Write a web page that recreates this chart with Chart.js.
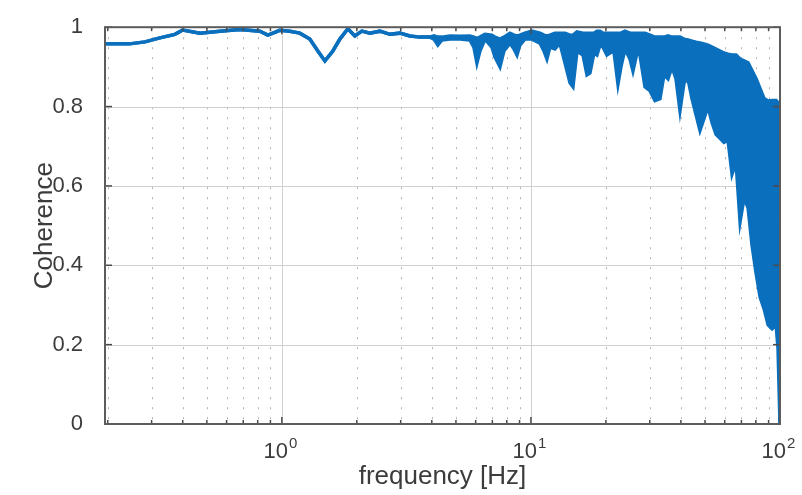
<!DOCTYPE html>
<html>
<head>
<meta charset="utf-8">
<script src="https://cdn.jsdelivr.net/npm/chart.js@4.4.1/dist/chart.umd.min.js"></script>
<style>
    html, body { margin: 0; padding: 0; background: #fff; }
    #wrap { width: 802px; height: 495px; position: relative; }
</style>
</head>
<body>
<div id="wrap"><canvas id="coh"></canvas></div>
<script>
// frequency bins [Hz]
const freqHz = [
    0.195, 0.245, 0.282, 0.324, 0.372, 0.400, 0.469, 0.564, 0.678, 0.816,
    0.879, 0.982, 1.077, 1.181, 1.295, 1.395, 1.489, 1.603, 1.710, 1.841,
    1.964, 2.096, 2.255, 2.474, 2.715, 2.978, 3.267, 3.584, 3.93,
    4.08, 4.23, 4.39, 4.73, 5.19, 5.69, 5.90, 6.07, 6.24, 6.54,
    6.97, 7.17, 7.51, 7.79, 8.24, 8.55, 8.79, 9.03, 9.46, 10.09,
    10.87, 11.28, 11.59, 11.92, 12.48, 13.07, 13.70, 14.35, 14.75, 15.31,
    16.18, 16.79, 17.26, 17.91, 18.41, 18.93, 19.46, 20.19, 20.76, 21.54,
    22.36, 22.98, 23.85, 24.98, 25.68, 26.65, 27.40, 28.70, 30.06, 31.48,
    32.97, 34.21, 35.50, 36.84, 38.23, 39.67, 41.17, 42.72, 44.33, 46.00,
    47.73, 49.53, 51.40, 53.34, 55.35, 57.44, 59.61, 61.86, 64.19, 66.61,
    69.13, 71.74, 74.45, 77.25, 80.17, 83.19, 86.33, 89.59, 92.97, 96.47,
    98.2, 100
];

// top edge of the coherence trace
const cohUpper = [
    0.958, 0.958, 0.963, 0.973, 0.982, 0.993, 0.985, 0.990, 0.994, 0.990,
    0.980, 0.992, 0.990, 0.985, 0.970, 0.940, 0.915, 0.940, 0.970, 0.996,
    0.978, 0.990, 0.985, 0.990, 0.982, 0.985, 0.978, 0.975, 0.975,
    0.978, 0.975, 0.975, 0.978, 0.977, 0.978, 0.975, 0.972, 0.975, 0.982,
    0.980, 0.975, 0.970, 0.975, 0.985, 0.980, 0.978, 0.980, 0.985, 0.990,
    0.985, 0.980, 0.978, 0.980, 0.985, 0.985, 0.985, 0.980, 0.980, 0.988,
    0.985, 0.985, 0.985, 0.985, 0.990, 0.990, 0.985, 0.985, 0.985, 0.985,
    0.985, 0.985, 0.990, 0.985, 0.985, 0.985, 0.985, 0.985, 0.980, 0.975,
    0.975, 0.975, 0.978, 0.975, 0.975, 0.975, 0.970, 0.968, 0.965, 0.962,
    0.960, 0.958, 0.955, 0.950, 0.945, 0.940, 0.935, 0.932, 0.930, 0.930,
    0.920, 0.915, 0.910, 0.890, 0.870, 0.845, 0.820, 0.814, 0.815, 0.815,
    0.810, 0.000
];

// bottom edge (dips) of the coherence trace
const cohLower = [
    0.958, 0.958, 0.963, 0.973, 0.982, 0.993, 0.985, 0.990, 0.994, 0.990,
    0.980, 0.992, 0.990, 0.985, 0.970, 0.940, 0.915, 0.940, 0.970, 0.996,
    0.978, 0.990, 0.985, 0.990, 0.982, 0.985, 0.978, 0.975, 0.975,
    0.970, 0.955, 0.968, 0.970, 0.970, 0.968, 0.950, 0.910, 0.940, 0.970,
    0.950, 0.925, 0.900, 0.940, 0.960, 0.945, 0.930, 0.955, 0.970, 0.970,
    0.960, 0.940, 0.920, 0.950, 0.945, 0.960, 0.910, 0.860, 0.850, 0.940,
    0.930, 0.880, 0.885, 0.935, 0.930, 0.955, 0.950, 0.930, 0.935, 0.940,
    0.857, 0.900, 0.945, 0.920, 0.890, 0.935, 0.930, 0.850, 0.840, 0.815,
    0.820, 0.880, 0.870, 0.900, 0.870, 0.790, 0.860, 0.870, 0.820, 0.780,
    0.740, 0.770, 0.800, 0.760, 0.730, 0.720, 0.710, 0.715, 0.630, 0.660,
    0.510, 0.570, 0.545, 0.450, 0.380, 0.320, 0.290, 0.250, 0.240, 0.250,
    0.190, 0.000
];

const xMajorTicks = [1, 10, 100];
const xMajorExp = ['0', '1', '2'];
const xMinorTicks = [
    0.2, 0.3, 0.4, 0.5, 0.6, 0.7, 0.8, 0.9,
    2, 3, 4, 5, 6, 7, 8, 9,
    20, 30, 40, 50, 60, 70, 80, 90
];
const yTicks = [0, 0.2, 0.4, 0.6, 0.8, 1];

const blue = '#0a6fbd';
const textCol = '#3c3c3c';
const font = '"Liberation Sans", Arial, Helvetica, sans-serif';

const toPts = (ys) => freqHz.map((f, i) => ({ x: f, y: ys[i] }));

// MATLAB-ish axes: dotted minor grid, solid major grid, inward ticks, box
const matlabAxes = {
    id: 'matlabAxes',
    beforeDatasetsDraw(chart) {
        const { ctx, chartArea: a, scales: { x, y } } = chart;
        ctx.save();
        ctx.lineWidth = 1;
        ctx.strokeStyle = '#b2b2b2';
        ctx.setLineDash([2, 8]);
        for (const v of xMinorTicks) {
            const px = Math.round(x.getPixelForValue(v)) + 0.5;
            ctx.beginPath();
            ctx.moveTo(px, a.top);
            ctx.lineTo(px, a.bottom);
            ctx.stroke();
        }
        ctx.setLineDash([]);
        ctx.strokeStyle = '#d0d0d0';
        for (const v of xMajorTicks) {
            const px = Math.round(x.getPixelForValue(v)) + 0.5;
            ctx.beginPath();
            ctx.moveTo(px, a.top);
            ctx.lineTo(px, a.bottom);
            ctx.stroke();
        }
        for (const v of yTicks) {
            const py = Math.round(y.getPixelForValue(v)) + 0.5;
            ctx.beginPath();
            ctx.moveTo(a.left, py);
            ctx.lineTo(a.right, py);
            ctx.stroke();
        }
        ctx.restore();
    },
    afterDatasetsDraw(chart) {
        const { ctx, chartArea: a, scales: { x, y } } = chart;
        ctx.save();
        ctx.strokeStyle = '#4a4a4a';
        ctx.lineWidth = 1.5;
        const tick = (x1, y1, x2, y2) => {
            ctx.beginPath();
            ctx.moveTo(x1, y1);
            ctx.lineTo(x2, y2);
            ctx.stroke();
        };
        for (const v of xMinorTicks) {
            const px = x.getPixelForValue(v);
            tick(px, a.bottom, px, a.bottom - 4);
            tick(px, a.top, px, a.top + 4);
        }
        for (const v of xMajorTicks) {
            const px = x.getPixelForValue(v);
            tick(px, a.bottom, px, a.bottom - 7);
            tick(px, a.top, px, a.top + 7);
        }
        for (const v of yTicks) {
            const py = y.getPixelForValue(v);
            tick(a.left, py, a.left + 7, py);
            tick(a.right, py, a.right - 7, py);
        }
        ctx.strokeStyle = '#5c5c5c';
        ctx.lineWidth = 2;
        ctx.strokeRect(a.left, a.top, a.right - a.left, a.bottom - a.top);

        // 10^n labels
        ctx.fillStyle = textCol;
        ctx.textBaseline = 'alphabetic';
        ctx.textAlign = 'left';
        xMajorTicks.forEach((v, i) => {
            const px = x.getPixelForValue(v);
            ctx.font = '22px ' + font;
            const wBase = ctx.measureText('10').width;
            ctx.font = '15px ' + font;
            const wExp = ctx.measureText(xMajorExp[i]).width;
            const left = px - (wBase + wExp) / 2 - 2;
            ctx.font = '22px ' + font;
            ctx.fillText('10', left, a.bottom + 34);
            ctx.font = '15px ' + font;
            ctx.fillText(xMajorExp[i], left + wBase + 1, a.bottom + 24);
        });
        ctx.restore();
    }
};

new Chart(document.getElementById('coh'), {
    type: 'line',
    data: {
        datasets: [
            {
                label: 'coherence max',
                data: toPts(cohUpper),
                borderColor: blue,
                borderWidth: 3.5,
                pointRadius: 0,
                tension: 0,
                fill: false,
            },
            {
                label: 'coherence min',
                data: toPts(cohLower),
                borderColor: blue,
                backgroundColor: blue,
                borderWidth: 3.5,
                pointRadius: 0,
                tension: 0,
                fill: '-1',
            },
        ],
    },
    options: {
        responsive: true,
        maintainAspectRatio: false,
        animation: false,
        layout: { padding: { left: 0, right: 22, top: 26, bottom: 0 } },
        plugins: {
            legend: { display: false },
            tooltip: { enabled: false },
        },
        scales: {
            x: {
                type: 'logarithmic',
                min: 0.195,
                max: 100,
                grid: { display: false },
                border: { display: false },
                ticks: { display: false },
                title: {
                    display: true,
                    text: 'frequency [Hz]',
                    color: textCol,
                    font: { family: font, size: 26 },
                    padding: { top: 0, bottom: 3 },
                },
                afterFit(scale) {
                    scale.height = 71;
                },
            },
            y: {
                min: 0,
                max: 1,
                grid: { display: false },
                border: { display: false },
                afterBuildTicks(scale) {
                    scale.ticks = yTicks.map((v) => ({ value: v }));
                },
                ticks: {
                    color: textCol,
                    font: { family: font, size: 22 },
                    padding: 14,
                    callback: (v) => String(+(+v).toFixed(1)),
                },
                title: {
                    display: true,
                    text: 'Coherence',
                    color: textCol,
                    font: { family: font, size: 26 },
                    padding: { top: 29, bottom: 0 },
                },
                afterFit(scale) {
                    scale.width = 105;
                },
            },
        },
    },
    plugins: [matlabAxes],
});
</script>
</body>
</html>
